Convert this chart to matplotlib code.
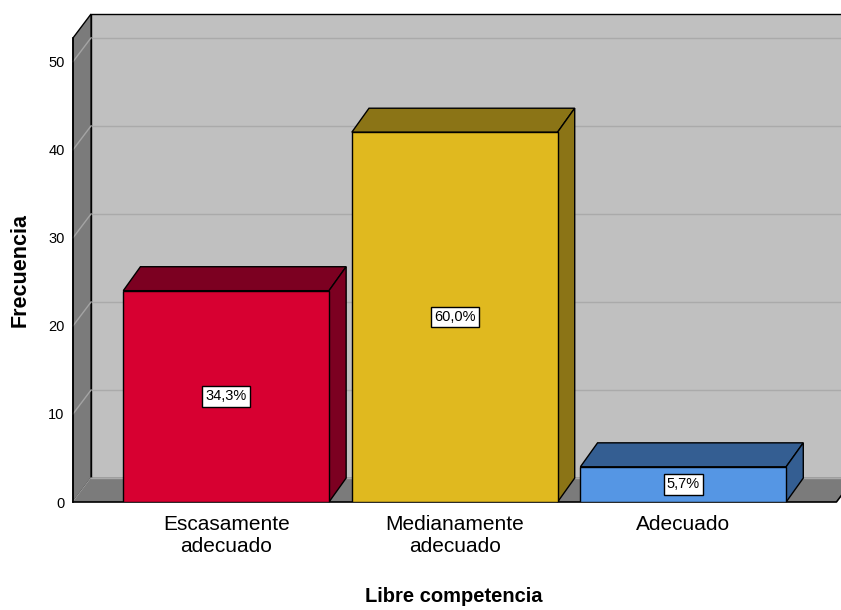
import matplotlib.pyplot as plt
from matplotlib.patches import Polygon

plt.rcParams["font.family"] = ["Liberation Sans", "DejaVu Sans"]

# datos de la tabla de frecuencias
categorias = ["Escasamente\nadecuado", "Medianamente\nadecuado", "Adecuado"]
frecuencias = [24, 42, 4]
marcas_y = [0, 10, 20, 30, 40, 50]

colores_frente = ["#d70031", "#e0b91f", "#5596e4"]
colores_sombra = ["#7c0021", "#8b7416", "#345e92"]

total = sum(frecuencias)
porcentajes = [f / total * 100 for f in frecuencias]

# caja 3D
y_tope = 52.7
dx, dy = 0.079, 2.72      # profundidad de paredes y suelo
bdx = 0.075               # profundidad de las barras
x_ini, x_fin = -0.67, 2.67
ancho = 0.9
gris_pared = "#c0c0c0"
gris_oscuro = "#7b7b7b"
gris_rejilla = "#aaaaaa"

fig = plt.figure(figsize=(8.41, 6.1), dpi=100)
ax = fig.add_axes([73 / 841, 108 / 610, 768 / 841, 488 / 610])
ax.set_xlim(x_ini, 2.69)
ax.set_ylim(0, y_tope + dy)


def cara(puntos, color, z, borde="black"):
    ax.add_patch(Polygon(puntos, closed=True, facecolor=color, edgecolor=borde,
                         lw=1.0, zorder=z, clip_on=False, joinstyle="miter"))


# pared del fondo
cara([(x_ini + dx, dy), (x_fin + dx, dy), (x_fin + dx, y_tope + dy),
      (x_ini + dx, y_tope + dy)], gris_pared, 1)
for v in marcas_y:
    ax.plot([x_ini + dx, x_fin + dx], [v + dy, v + dy], color=gris_rejilla,
            lw=1, zorder=1.5, clip_on=False)

# pared izquierda
cara([(x_ini, 0), (x_ini + dx, dy), (x_ini + dx, y_tope + dy), (x_ini, y_tope)],
     gris_oscuro, 2)
for v in marcas_y:
    ax.plot([x_ini, x_ini + dx], [v, v + dy], color="#a4a4a4", lw=1,
            zorder=2.5, clip_on=False)

# suelo
cara([(x_ini, 0), (x_fin, 0), (x_fin + dx, dy), (x_ini + dx, dy)],
     gris_oscuro, 3, borde="none")
ax.plot([x_ini + dx, x_fin + dx], [dy, dy], color=gris_rejilla, lw=1, zorder=3.2)
ax.plot([x_ini, x_fin, x_fin + dx], [0, 0, dy], color="black", lw=1.2,
        zorder=3.5, clip_on=False)
ax.plot([x_ini, x_ini], [0, y_tope], color="black", lw=1.2, zorder=3.5,
        clip_on=False)

# barras
for i, (h, cf, cs) in enumerate(zip(frecuencias, colores_frente, colores_sombra)):
    xl, xr = i - ancho / 2, i + ancho / 2
    cara([(xl, h), (xr, h), (xr + bdx, h + dy), (xl + bdx, h + dy)], cs, 4)
    cara([(xr, 0), (xr + bdx, dy), (xr + bdx, h + dy), (xr, h)], cs, 4)
ax.bar(range(len(frecuencias)), frecuencias, width=ancho, color=colores_frente,
       edgecolor="black", lw=1, zorder=5)

for i, (h, p) in enumerate(zip(frecuencias, porcentajes)):
    ax.text(i, h / 2, f"{p:.1f}%".replace(".", ","), ha="center", va="center",
            fontsize=10.5, zorder=7,
            bbox=dict(boxstyle="square,pad=0.22", fc="white", ec="black", lw=1))

for s in ax.spines.values():
    s.set_visible(False)
ax.set_yticks(marcas_y)
ax.tick_params(axis="y", length=0, pad=6, labelsize=10.5)
ax.set_xticks(range(len(categorias)), categorias)
ax.tick_params(axis="x", length=0, pad=9, labelsize=15)

fig.text(454 / 841, 1 - 597 / 610, "Libre competencia", ha="center",
         va="center", fontsize=14.5, fontweight="bold")
fig.text(20 / 841, 1 - 270 / 610, "Frecuencia", ha="center", va="center",
         rotation=90, fontsize=15.5, fontweight="bold")

fig.savefig("out.png", dpi=100)
